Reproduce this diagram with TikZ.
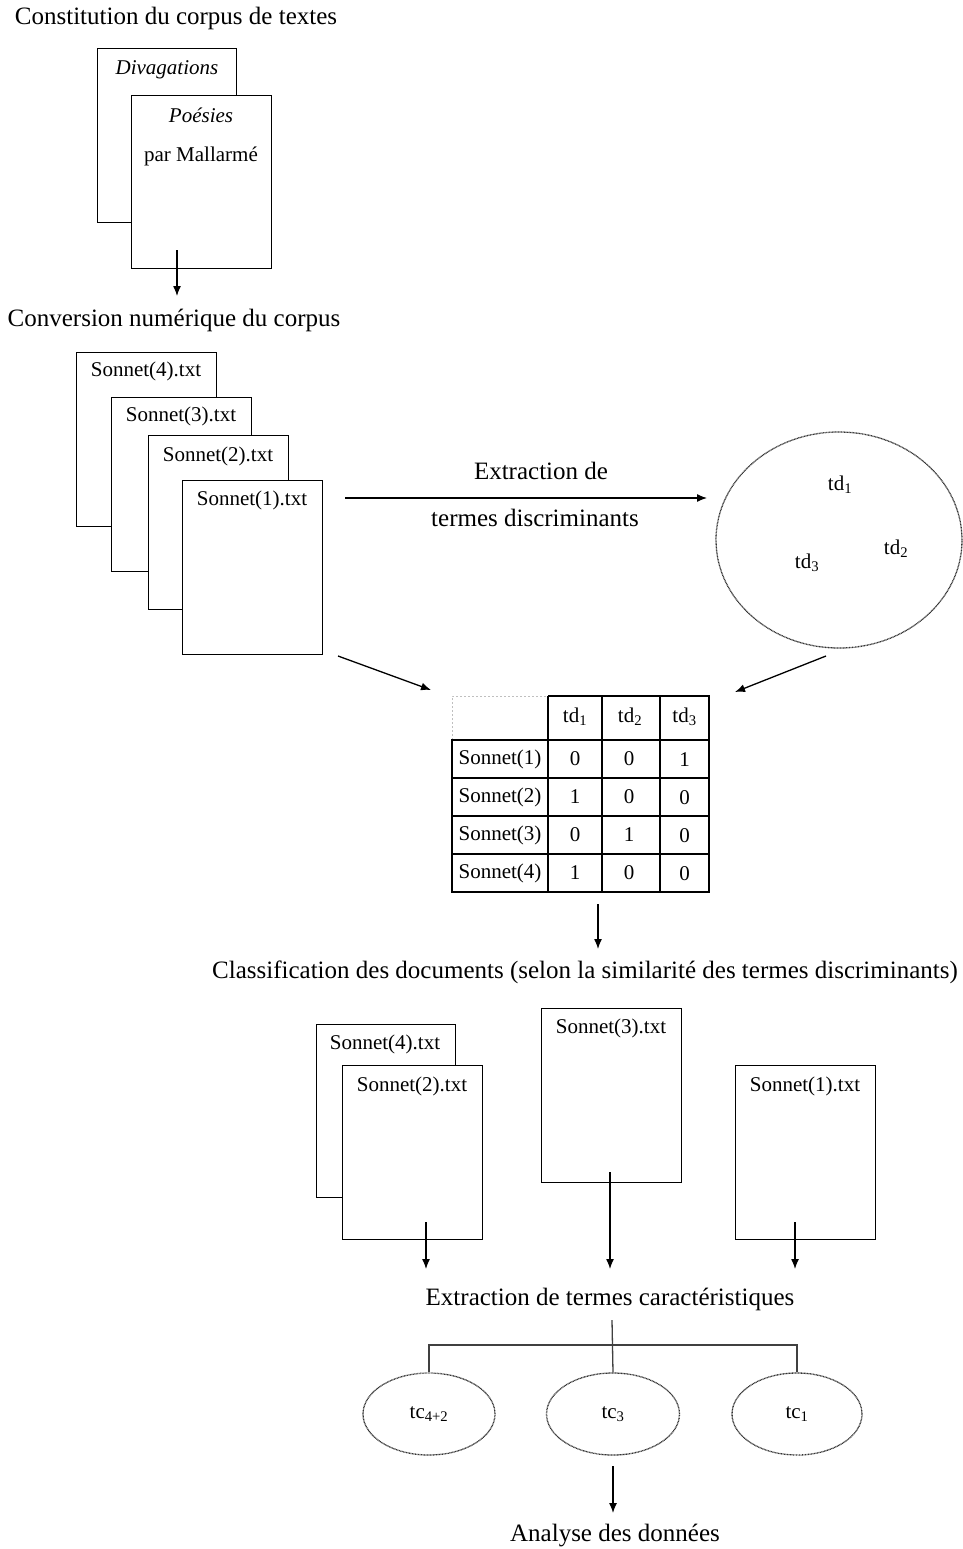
\documentclass[tikz,border=0pt]{standalone}
\usepackage{fontspec}
\setmainfont{Liberation Serif}
\usetikzlibrary{shapes.geometric,arrows.meta}
\begin{document}
\begin{tikzpicture}[x=1pt,y=-1pt,
  doc/.style={draw,fill=white,line width=1.4pt,inner sep=0pt,anchor=north west,minimum width=140pt,minimum height=174pt},
  txt/.style={inner sep=0pt,font=\fontsize{21}{25}\selectfont},
  head/.style={inner sep=0pt,font=\fontsize{25}{30}\selectfont},
  arr/.style={line width=1.3pt,-{Latex[length=10pt,width=8pt]}},
  dotell/.style={ellipse,draw=black!80,line width=1.3pt,dash pattern=on 0.9pt off 0.6pt,inner sep=0pt},
  cell/.style={inner sep=0pt,font=\fontsize{21}{25}\selectfont},
  tl/.style={line width=1.6pt}
]
\useasboundingbox (0,0) rectangle (963,1549);
% Part 1
\node[head] (h1) at (176,18) {Constitution du corpus de textes};
\node[doc,minimum width=139pt,minimum height=174pt] (divag) at (97,48) {};
\node[txt,font=\fontsize{21}{25}\selectfont\itshape] (tdivag) at (167,70) {Divagations};
\node[doc,minimum width=140pt,minimum height=173pt] (poes) at (131,95) {};
\node[txt,font=\fontsize{21}{25}\selectfont\itshape] (tpoes) at (201,115) {Poésies};
\node[txt] (tmall) at (201,156) {par Mallarmé};
\coordinate (a1s) at (177,250);
\coordinate (a1e) at (177,296);
\draw[arr] (a1s) -- (a1e);
% Part 2
\node[head] (h2) at (174,320) {Conversion numérique du corpus};
\node[doc] (s4) at (76,352) {};
\node[txt] (ts4) at (146,371) {Sonnet(4).txt};
\node[doc] (s3) at (111,397) {};
\node[txt] (ts3) at (181,416) {Sonnet(3).txt};
\node[doc] (s2) at (148,435) {};
\node[txt] (ts2) at (218,456) {Sonnet(2).txt};
\node[doc] (s1) at (182,480) {};
\node[txt] (ts1) at (252,500) {Sonnet(1).txt};
\coordinate (a2s) at (345,498);
\coordinate (a2e) at (707,498);
\draw[arr] (a2s) -- (a2e);
\node[txt,font=\fontsize{25}{30}\selectfont] (ext1) at (541,471) {Extraction de};
\node[txt,font=\fontsize{25}{30}\selectfont] (ext2) at (535,518) {termes discriminants};
\node[dotell,minimum width=246pt,minimum height=216pt] (cloud) at (839,540) {};
\node[txt] (td1) at (840,485) {td\textsubscript{1}};
\node[txt] (td2) at (896,549) {td\textsubscript{2}};
\node[txt] (td3) at (807,563) {td\textsubscript{3}};
% arrows to table
\coordinate (a3s) at (338,656);
\coordinate (a3e) at (431,690);
\draw[arr] (a3s) -- (a3e);
\coordinate (a4s) at (826,656);
\coordinate (a4e) at (735,692);
\draw[arr] (a4s) -- (a4e);
% Table
\draw[black!25,line width=1pt,dash pattern=on 2pt off 2pt] (452,740) -- (452,696) -- (548,696);
\draw[tl] (548,696) -- (709,696) -- (709,892) -- (452,892) -- (452,740) -- (709,740);
\draw[tl] (452,778) -- (709,778);
\draw[tl] (452,816) -- (709,816);
\draw[tl] (452,854) -- (709,854);
\draw[tl] (548,696) -- (548,892);
\draw[tl] (602,696) -- (602,892);
\draw[tl] (660,696) -- (660,892);
\node[cell] (c01) at (575,717) {td\textsubscript{1}};
\node[cell] (c02) at (630,717) {td\textsubscript{2}};
\node[cell] (c03) at (684.5,717) {td\textsubscript{3}};
\node[cell] (r1) at (500,759) {Sonnet(1)};
\node[cell] (r2) at (500,797) {Sonnet(2)};
\node[cell] (r3) at (500,835) {Sonnet(3)};
\node[cell] (r4) at (500,873) {Sonnet(4)};
\node[cell] (c11) at (575,759) {0};
\node[cell] (c12) at (629,759) {0};
\node[cell] (c13) at (684.5,760) {1};
\node[cell] (c21) at (575,797) {1};
\node[cell] (c22) at (629,797) {0};
\node[cell] (c23) at (684.5,798) {0};
\node[cell] (c31) at (575,835) {0};
\node[cell] (c32) at (629,835) {1};
\node[cell] (c33) at (684.5,836) {0};
\node[cell] (c41) at (575,873) {1};
\node[cell] (c42) at (629,873) {0};
\node[cell] (c43) at (684.5,874) {0};
\coordinate (a5s) at (598,904);
\coordinate (a5e) at (598,949);
\draw[arr] (a5s) -- (a5e);
% Part 3
\node[head] (h3) at (585,972) {Classification des documents (selon la similarité des termes discriminants)};
\node[doc,minimum width=139pt,minimum height=173pt] (b4) at (316,1024) {};
\node[txt] (tb4) at (385,1044) {Sonnet(4).txt};
\node[doc] (b2) at (342,1065) {};
\node[txt] (tb2) at (412,1086) {Sonnet(2).txt};
\node[doc] (b3) at (541,1008) {};
\node[txt] (tb3) at (611,1028) {Sonnet(3).txt};
\node[doc] (b1) at (735,1065) {};
\node[txt] (tb1) at (805,1086) {Sonnet(1).txt};
\coordinate (a6s) at (426,1222);
\coordinate (a6e) at (426,1269);
\draw[arr] (a6s) -- (a6e);
\coordinate (a7s) at (610,1172);
\coordinate (a7e) at (610,1269);
\draw[arr] (a7s) -- (a7e);
\coordinate (a8s) at (795,1222);
\coordinate (a8e) at (795,1269);
\draw[arr] (a8s) -- (a8e);
% Part 4
\node[head] (h4) at (610,1299) {Extraction de termes caractéristiques};
\node[dotell,minimum width=132pt,minimum height=82pt] (e1) at (429,1414) {};
\node[txt] (te1) at (429,1414) {tc\textsubscript{4+2}};
\node[dotell,minimum width=133pt,minimum height=82pt] (e2) at (613,1414) {};
\node[txt] (te2) at (613,1414) {tc\textsubscript{3}};
\node[dotell,minimum width=130pt,minimum height=82pt] (e3) at (797,1414) {};
\node[txt] (te3) at (797,1414) {tc\textsubscript{1}};
\coordinate (br) at (612,1345);
\coordinate (brtop) at (612,1320);
\draw[line width=1.3pt,black!75] (brtop) -- (e2.north);
\draw[line width=1.3pt,black!75] (e1.north) -- (e1.north |- br) -- (e3.north |- br) -- (e3.north);
\coordinate (a9s) at (613,1466);
\coordinate (a9e) at (613,1513);
\draw[arr] (a9s) -- (a9e);
\node[head] (h5) at (615,1535) {Analyse des données};
\end{tikzpicture}
\end{document}
